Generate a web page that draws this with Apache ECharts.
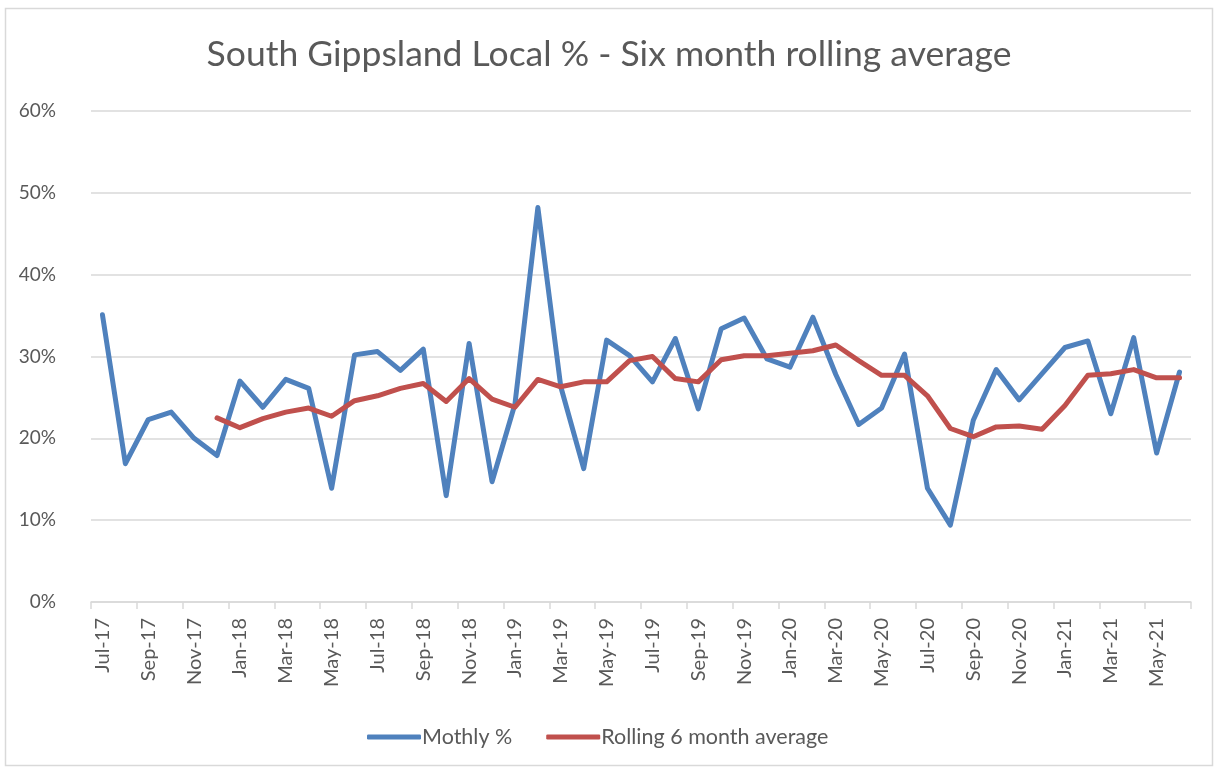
<!DOCTYPE html>
<html>
<head>
<meta charset="utf-8">
<script src="https://cdn.jsdelivr.net/npm/echarts@6/dist/echarts.min.js"></script>
<style>
html,body{margin:0;padding:0;background:#fff;}
#chart{width:1218px;height:771px;}
</style>
</head>
<body>
<div id="chart"></div>
<script>
const categories = [
  'Jul-17','Aug-17','Sep-17','Oct-17','Nov-17','Dec-17',
  'Jan-18','Feb-18','Mar-18','Apr-18','May-18','Jun-18','Jul-18','Aug-18','Sep-18','Oct-18','Nov-18','Dec-18',
  'Jan-19','Feb-19','Mar-19','Apr-19','May-19','Jun-19','Jul-19','Aug-19','Sep-19','Oct-19','Nov-19','Dec-19',
  'Jan-20','Feb-20','Mar-20','Apr-20','May-20','Jun-20','Jul-20','Aug-20','Sep-20','Oct-20','Nov-20','Dec-20',
  'Jan-21','Feb-21','Mar-21','Apr-21','May-21','Jun-21'
];
const monthly = [
  35.1,16.9,22.3,23.2,20.0,17.9,
  27.0,23.8,27.2,26.1,13.9,30.2,30.6,28.3,30.9,13.0,31.6,14.7,
  24.2,48.2,26.3,16.3,32.0,30.1,26.9,32.2,23.6,33.4,34.7,29.7,
  28.7,34.8,27.8,21.7,23.7,30.3,13.9,9.4,22.2,28.4,24.7,27.9,
  31.1,31.9,23.0,32.3,18.2,28.1
];
const rolling = [
  null,null,null,null,null,22.5,
  21.3,22.4,23.2,23.7,22.7,24.6,25.2,26.1,26.7,24.5,27.3,24.8,
  23.8,27.2,26.3,26.9,26.9,29.5,30.0,27.3,26.9,29.6,30.1,30.1,
  30.4,30.7,31.4,29.5,27.7,27.7,25.2,21.2,20.2,21.4,21.5,21.1,
  24.0,27.7,27.9,28.4,27.4,27.4
];
const seriesNames = ['Mothly %','Rolling 6 month average'];
const yTicks = [0,10,20,30,40,50,60];

const chart = echarts.init(document.getElementById('chart'));
const font = 'Lato, "Open Sans", sans-serif';
chart.setOption({
  backgroundColor:'#fff',
  animation:false,
  title:{
    text:'South Gippsland Local % - Six month rolling average',
    left:'center', top:32,
    textStyle:{fontFamily:font,fontSize:35.5,fontWeight:'normal',color:'#595959'}
  },
  graphic:[{type:'rect',shape:{x:5.5,y:8.5,width:1207,height:757},
    style:{fill:'none',stroke:'#d9d9d9',lineWidth:1.5},silent:true}],
  legend:{
    bottom:23, left:367, padding:0,
    itemWidth:54, itemHeight:5, itemGap:34,
    icon:'roundRect',
    textStyle:{fontFamily:font,fontSize:21.5,color:'#595959',padding:[0,0,0,-4]},
    data:seriesNames.map(n=>({name:n,icon:'roundRect'}))
  },
  grid:{left:91,right:27,top:111,bottom:169,containLabel:false},
  xAxis:{
    type:'category', data:categories, boundaryGap:true,
    axisLine:{lineStyle:{color:'#d9d9d9',width:1.5}},
    axisTick:{show:true,interval:1,length:7,lineStyle:{color:'#d9d9d9',width:1.5}},
    axisLabel:{interval:1,rotate:90,margin:16,fontFamily:font,fontSize:20,color:'#595959'}
  },
  yAxis:{
    type:'value', min:yTicks[0], max:yTicks[yTicks.length-1], interval:10,
    axisLine:{show:false}, axisTick:{show:false},
    splitLine:{lineStyle:{color:'#d9d9d9',width:1.5}},
    axisLabel:{formatter:v=>v+'%',margin:35,fontFamily:font,fontSize:19,color:'#595959'}
  },
  series:[
    {name:seriesNames[0],type:'line',data:monthly,symbol:'none',
     lineStyle:{color:'#4F81BD',width:5,join:'round',cap:'round'},itemStyle:{color:'#4F81BD'}},
    {name:seriesNames[1],type:'line',data:rolling,symbol:'none',
     lineStyle:{color:'#C0504D',width:5,join:'round',cap:'round'},itemStyle:{color:'#C0504D'}}
  ]
});
</script>
</body>
</html>
